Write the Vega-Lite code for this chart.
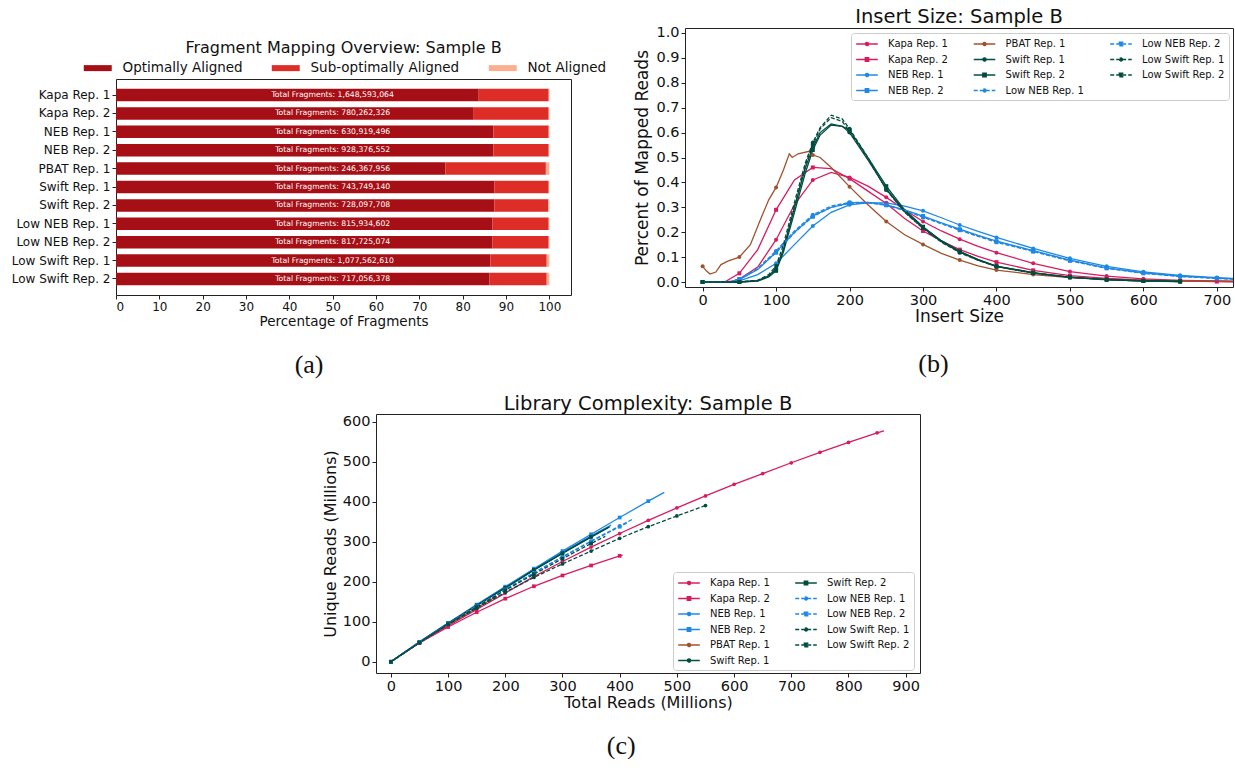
{
"$schema": "https://vega.github.io/schema/vega-lite/v6.json",
"padding": {"left": 10, "top": 6, "right": 0, "bottom": 0},
"config": {
  "font": "DejaVu Sans",
  "view": {"stroke": "#222", "strokeWidth": 1},
  "axis": {"grid": false, "domain": false, "tickColor": "#222", "labelColor": "#111", "titleColor": "#111", "titleFontWeight": "normal", "tickSize": 4, "labelPadding": 2},
  "title": {"fontWeight": "normal", "color": "#111", "anchor": "middle"},
  "legend": {"labelColor": "#111"}
},
"datasets": {
  "frag": [
    {"lib": "Kapa Rep. 1", "cat": "Optimally Aligned", "k": 1, "pct": 83.7},
    {"lib": "Kapa Rep. 1", "cat": "Sub-optimally Aligned", "k": 2, "pct": 16.15},
    {"lib": "Kapa Rep. 1", "cat": "Not Aligned", "k": 3, "pct": 0.15},
    {"lib": "Kapa Rep. 2", "cat": "Optimally Aligned", "k": 1, "pct": 82.4},
    {"lib": "Kapa Rep. 2", "cat": "Sub-optimally Aligned", "k": 2, "pct": 17.45},
    {"lib": "Kapa Rep. 2", "cat": "Not Aligned", "k": 3, "pct": 0.15},
    {"lib": "NEB Rep. 1", "cat": "Optimally Aligned", "k": 1, "pct": 87.1},
    {"lib": "NEB Rep. 1", "cat": "Sub-optimally Aligned", "k": 2, "pct": 12.75},
    {"lib": "NEB Rep. 1", "cat": "Not Aligned", "k": 3, "pct": 0.15},
    {"lib": "NEB Rep. 2", "cat": "Optimally Aligned", "k": 1, "pct": 87.1},
    {"lib": "NEB Rep. 2", "cat": "Sub-optimally Aligned", "k": 2, "pct": 12.75},
    {"lib": "NEB Rep. 2", "cat": "Not Aligned", "k": 3, "pct": 0.15},
    {"lib": "PBAT Rep. 1", "cat": "Optimally Aligned", "k": 1, "pct": 76.0},
    {"lib": "PBAT Rep. 1", "cat": "Sub-optimally Aligned", "k": 2, "pct": 23.2},
    {"lib": "PBAT Rep. 1", "cat": "Not Aligned", "k": 3, "pct": 0.8},
    {"lib": "Swift Rep. 1", "cat": "Optimally Aligned", "k": 1, "pct": 87.3},
    {"lib": "Swift Rep. 1", "cat": "Sub-optimally Aligned", "k": 2, "pct": 12.55},
    {"lib": "Swift Rep. 1", "cat": "Not Aligned", "k": 3, "pct": 0.15},
    {"lib": "Swift Rep. 2", "cat": "Optimally Aligned", "k": 1, "pct": 87.3},
    {"lib": "Swift Rep. 2", "cat": "Sub-optimally Aligned", "k": 2, "pct": 12.45},
    {"lib": "Swift Rep. 2", "cat": "Not Aligned", "k": 3, "pct": 0.25},
    {"lib": "Low NEB Rep. 1", "cat": "Optimally Aligned", "k": 1, "pct": 86.9},
    {"lib": "Low NEB Rep. 1", "cat": "Sub-optimally Aligned", "k": 2, "pct": 12.95},
    {"lib": "Low NEB Rep. 1", "cat": "Not Aligned", "k": 3, "pct": 0.15},
    {"lib": "Low NEB Rep. 2", "cat": "Optimally Aligned", "k": 1, "pct": 86.9},
    {"lib": "Low NEB Rep. 2", "cat": "Sub-optimally Aligned", "k": 2, "pct": 12.95},
    {"lib": "Low NEB Rep. 2", "cat": "Not Aligned", "k": 3, "pct": 0.15},
    {"lib": "Low Swift Rep. 1", "cat": "Optimally Aligned", "k": 1, "pct": 86.4},
    {"lib": "Low Swift Rep. 1", "cat": "Sub-optimally Aligned", "k": 2, "pct": 13.0},
    {"lib": "Low Swift Rep. 1", "cat": "Not Aligned", "k": 3, "pct": 0.6},
    {"lib": "Low Swift Rep. 2", "cat": "Optimally Aligned", "k": 1, "pct": 86.2},
    {"lib": "Low Swift Rep. 2", "cat": "Sub-optimally Aligned", "k": 2, "pct": 13.2},
    {"lib": "Low Swift Rep. 2", "cat": "Not Aligned", "k": 3, "pct": 0.6}
  ],
  "totals": [
    {"lib": "Kapa Rep. 1", "label": "Total Fragments: 1,648,593,064"},
    {"lib": "Kapa Rep. 2", "label": "Total Fragments: 780,262,326"},
    {"lib": "NEB Rep. 1", "label": "Total Fragments: 630,919,496"},
    {"lib": "NEB Rep. 2", "label": "Total Fragments: 928,376,552"},
    {"lib": "PBAT Rep. 1", "label": "Total Fragments: 246,367,956"},
    {"lib": "Swift Rep. 1", "label": "Total Fragments: 743,749,140"},
    {"lib": "Swift Rep. 2", "label": "Total Fragments: 728,097,708"},
    {"lib": "Low NEB Rep. 1", "label": "Total Fragments: 815,934,602"},
    {"lib": "Low NEB Rep. 2", "label": "Total Fragments: 817,725,074"},
    {"lib": "Low Swift Rep. 1", "label": "Total Fragments: 1,077,562,610"},
    {"lib": "Low Swift Rep. 2", "label": "Total Fragments: 717,056,378"}
  ],
  "ins": [
    {"s":"Kapa Rep. 1","x":35,"y":0},{"s":"Kapa Rep. 1","x":50,"y":0.012},{"s":"Kapa Rep. 1","x":75,"y":0.06},{"s":"Kapa Rep. 1","x":100,"y":0.17},{"s":"Kapa Rep. 1","x":125,"y":0.31},{"s":"Kapa Rep. 1","x":150,"y":0.41},{"s":"Kapa Rep. 1","x":175,"y":0.44},{"s":"Kapa Rep. 1","x":200,"y":0.42},{"s":"Kapa Rep. 1","x":225,"y":0.385},{"s":"Kapa Rep. 1","x":250,"y":0.34},{"s":"Kapa Rep. 1","x":275,"y":0.29},{"s":"Kapa Rep. 1","x":300,"y":0.243},{"s":"Kapa Rep. 1","x":325,"y":0.205},{"s":"Kapa Rep. 1","x":350,"y":0.172},{"s":"Kapa Rep. 1","x":375,"y":0.143},{"s":"Kapa Rep. 1","x":400,"y":0.118},{"s":"Kapa Rep. 1","x":450,"y":0.075},{"s":"Kapa Rep. 1","x":500,"y":0.042},{"s":"Kapa Rep. 1","x":550,"y":0.024},{"s":"Kapa Rep. 1","x":600,"y":0.013},{"s":"Kapa Rep. 1","x":650,"y":0.007},{"s":"Kapa Rep. 1","x":700,"y":0.004},{"s":"Kapa Rep. 1","x":722,"y":0.003},
    {"s":"Kapa Rep. 2","x":30,"y":0},{"s":"Kapa Rep. 2","x":50,"y":0.035},{"s":"Kapa Rep. 2","x":75,"y":0.13},{"s":"Kapa Rep. 2","x":100,"y":0.29},{"s":"Kapa Rep. 2","x":125,"y":0.41},{"s":"Kapa Rep. 2","x":150,"y":0.46},{"s":"Kapa Rep. 2","x":175,"y":0.455},{"s":"Kapa Rep. 2","x":200,"y":0.415},{"s":"Kapa Rep. 2","x":225,"y":0.365},{"s":"Kapa Rep. 2","x":250,"y":0.315},{"s":"Kapa Rep. 2","x":275,"y":0.255},{"s":"Kapa Rep. 2","x":300,"y":0.205},{"s":"Kapa Rep. 2","x":325,"y":0.165},{"s":"Kapa Rep. 2","x":350,"y":0.13},{"s":"Kapa Rep. 2","x":375,"y":0.103},{"s":"Kapa Rep. 2","x":400,"y":0.08},{"s":"Kapa Rep. 2","x":450,"y":0.047},{"s":"Kapa Rep. 2","x":500,"y":0.026},{"s":"Kapa Rep. 2","x":550,"y":0.015},{"s":"Kapa Rep. 2","x":600,"y":0.008},{"s":"Kapa Rep. 2","x":650,"y":0.004},{"s":"Kapa Rep. 2","x":700,"y":0.002},{"s":"Kapa Rep. 2","x":722,"y":0.001},
    {"s":"NEB Rep. 1","x":0,"y":0},{"s":"NEB Rep. 1","x":25,"y":0},{"s":"NEB Rep. 1","x":40,"y":0},{"s":"NEB Rep. 1","x":50,"y":0.005},{"s":"NEB Rep. 1","x":75,"y":0.03},{"s":"NEB Rep. 1","x":100,"y":0.075},{"s":"NEB Rep. 1","x":125,"y":0.15},{"s":"NEB Rep. 1","x":150,"y":0.225},{"s":"NEB Rep. 1","x":175,"y":0.28},{"s":"NEB Rep. 1","x":200,"y":0.31},{"s":"NEB Rep. 1","x":225,"y":0.318},{"s":"NEB Rep. 1","x":250,"y":0.318},{"s":"NEB Rep. 1","x":275,"y":0.305},{"s":"NEB Rep. 1","x":300,"y":0.286},{"s":"NEB Rep. 1","x":325,"y":0.258},{"s":"NEB Rep. 1","x":350,"y":0.229},{"s":"NEB Rep. 1","x":375,"y":0.203},{"s":"NEB Rep. 1","x":400,"y":0.179},{"s":"NEB Rep. 1","x":450,"y":0.135},{"s":"NEB Rep. 1","x":500,"y":0.095},{"s":"NEB Rep. 1","x":550,"y":0.063},{"s":"NEB Rep. 1","x":600,"y":0.041},{"s":"NEB Rep. 1","x":650,"y":0.027},{"s":"NEB Rep. 1","x":700,"y":0.018},{"s":"NEB Rep. 1","x":722,"y":0.015},
    {"s":"NEB Rep. 2","x":0,"y":0},{"s":"NEB Rep. 2","x":25,"y":0},{"s":"NEB Rep. 2","x":40,"y":0.002},{"s":"NEB Rep. 2","x":50,"y":0.01},{"s":"NEB Rep. 2","x":75,"y":0.05},{"s":"NEB Rep. 2","x":100,"y":0.12},{"s":"NEB Rep. 2","x":125,"y":0.2},{"s":"NEB Rep. 2","x":150,"y":0.265},{"s":"NEB Rep. 2","x":175,"y":0.3},{"s":"NEB Rep. 2","x":200,"y":0.318},{"s":"NEB Rep. 2","x":225,"y":0.32},{"s":"NEB Rep. 2","x":250,"y":0.31},{"s":"NEB Rep. 2","x":275,"y":0.29},{"s":"NEB Rep. 2","x":300,"y":0.265},{"s":"NEB Rep. 2","x":325,"y":0.238},{"s":"NEB Rep. 2","x":350,"y":0.212},{"s":"NEB Rep. 2","x":375,"y":0.187},{"s":"NEB Rep. 2","x":400,"y":0.164},{"s":"NEB Rep. 2","x":450,"y":0.126},{"s":"NEB Rep. 2","x":500,"y":0.088},{"s":"NEB Rep. 2","x":550,"y":0.057},{"s":"NEB Rep. 2","x":600,"y":0.037},{"s":"NEB Rep. 2","x":650,"y":0.024},{"s":"NEB Rep. 2","x":700,"y":0.016},{"s":"NEB Rep. 2","x":722,"y":0.013},
    {"s":"PBAT Rep. 1","x":0,"y":0.063},{"s":"PBAT Rep. 1","x":5,"y":0.045},{"s":"PBAT Rep. 1","x":10,"y":0.032},{"s":"PBAT Rep. 1","x":18,"y":0.04},{"s":"PBAT Rep. 1","x":25,"y":0.07},{"s":"PBAT Rep. 1","x":35,"y":0.085},{"s":"PBAT Rep. 1","x":50,"y":0.1},{"s":"PBAT Rep. 1","x":65,"y":0.15},{"s":"PBAT Rep. 1","x":80,"y":0.26},{"s":"PBAT Rep. 1","x":90,"y":0.33},{"s":"PBAT Rep. 1","x":100,"y":0.38},{"s":"PBAT Rep. 1","x":110,"y":0.45},{"s":"PBAT Rep. 1","x":118,"y":0.515},{"s":"PBAT Rep. 1","x":122,"y":0.5},{"s":"PBAT Rep. 1","x":130,"y":0.515},{"s":"PBAT Rep. 1","x":145,"y":0.525},{"s":"PBAT Rep. 1","x":150,"y":0.51},{"s":"PBAT Rep. 1","x":160,"y":0.5},{"s":"PBAT Rep. 1","x":175,"y":0.46},{"s":"PBAT Rep. 1","x":200,"y":0.383},{"s":"PBAT Rep. 1","x":225,"y":0.31},{"s":"PBAT Rep. 1","x":250,"y":0.243},{"s":"PBAT Rep. 1","x":275,"y":0.19},{"s":"PBAT Rep. 1","x":300,"y":0.151},{"s":"PBAT Rep. 1","x":325,"y":0.115},{"s":"PBAT Rep. 1","x":350,"y":0.088},{"s":"PBAT Rep. 1","x":375,"y":0.065},{"s":"PBAT Rep. 1","x":400,"y":0.048},{"s":"PBAT Rep. 1","x":450,"y":0.03},{"s":"PBAT Rep. 1","x":500,"y":0.018},{"s":"PBAT Rep. 1","x":550,"y":0.012},{"s":"PBAT Rep. 1","x":600,"y":0.008},{"s":"PBAT Rep. 1","x":650,"y":0.005},{"s":"PBAT Rep. 1","x":700,"y":0.003},{"s":"PBAT Rep. 1","x":722,"y":0.002},
    {"s":"Swift Rep. 1","x":0,"y":0},{"s":"Swift Rep. 1","x":25,"y":0},{"s":"Swift Rep. 1","x":50,"y":0},{"s":"Swift Rep. 1","x":75,"y":0.006},{"s":"Swift Rep. 1","x":90,"y":0.025},{"s":"Swift Rep. 1","x":100,"y":0.055},{"s":"Swift Rep. 1","x":110,"y":0.13},{"s":"Swift Rep. 1","x":125,"y":0.3},{"s":"Swift Rep. 1","x":140,"y":0.46},{"s":"Swift Rep. 1","x":150,"y":0.54},{"s":"Swift Rep. 1","x":160,"y":0.6},{"s":"Swift Rep. 1","x":175,"y":0.635},{"s":"Swift Rep. 1","x":190,"y":0.625},{"s":"Swift Rep. 1","x":200,"y":0.6},{"s":"Swift Rep. 1","x":225,"y":0.49},{"s":"Swift Rep. 1","x":250,"y":0.375},{"s":"Swift Rep. 1","x":275,"y":0.285},{"s":"Swift Rep. 1","x":300,"y":0.22},{"s":"Swift Rep. 1","x":325,"y":0.165},{"s":"Swift Rep. 1","x":350,"y":0.122},{"s":"Swift Rep. 1","x":375,"y":0.09},{"s":"Swift Rep. 1","x":400,"y":0.064},{"s":"Swift Rep. 1","x":450,"y":0.038},{"s":"Swift Rep. 1","x":500,"y":0.02},{"s":"Swift Rep. 1","x":550,"y":0.01},{"s":"Swift Rep. 1","x":600,"y":0.005},{"s":"Swift Rep. 1","x":650,"y":0.002},
    {"s":"Swift Rep. 2","x":0,"y":0},{"s":"Swift Rep. 2","x":25,"y":0},{"s":"Swift Rep. 2","x":50,"y":0},{"s":"Swift Rep. 2","x":75,"y":0.004},{"s":"Swift Rep. 2","x":90,"y":0.02},{"s":"Swift Rep. 2","x":100,"y":0.045},{"s":"Swift Rep. 2","x":110,"y":0.12},{"s":"Swift Rep. 2","x":125,"y":0.28},{"s":"Swift Rep. 2","x":140,"y":0.44},{"s":"Swift Rep. 2","x":150,"y":0.53},{"s":"Swift Rep. 2","x":160,"y":0.59},{"s":"Swift Rep. 2","x":175,"y":0.63},{"s":"Swift Rep. 2","x":190,"y":0.625},{"s":"Swift Rep. 2","x":200,"y":0.61},{"s":"Swift Rep. 2","x":225,"y":0.5},{"s":"Swift Rep. 2","x":250,"y":0.385},{"s":"Swift Rep. 2","x":275,"y":0.29},{"s":"Swift Rep. 2","x":300,"y":0.222},{"s":"Swift Rep. 2","x":325,"y":0.166},{"s":"Swift Rep. 2","x":350,"y":0.123},{"s":"Swift Rep. 2","x":375,"y":0.09},{"s":"Swift Rep. 2","x":400,"y":0.063},{"s":"Swift Rep. 2","x":450,"y":0.037},{"s":"Swift Rep. 2","x":500,"y":0.019},{"s":"Swift Rep. 2","x":550,"y":0.01},{"s":"Swift Rep. 2","x":600,"y":0.004},{"s":"Swift Rep. 2","x":650,"y":0.002},
    {"s":"Low NEB Rep. 1","x":0,"y":0},{"s":"Low NEB Rep. 1","x":25,"y":0},{"s":"Low NEB Rep. 1","x":40,"y":0.003},{"s":"Low NEB Rep. 1","x":50,"y":0.012},{"s":"Low NEB Rep. 1","x":75,"y":0.055},{"s":"Low NEB Rep. 1","x":100,"y":0.125},{"s":"Low NEB Rep. 1","x":125,"y":0.205},{"s":"Low NEB Rep. 1","x":150,"y":0.27},{"s":"Low NEB Rep. 1","x":175,"y":0.305},{"s":"Low NEB Rep. 1","x":200,"y":0.32},{"s":"Low NEB Rep. 1","x":225,"y":0.32},{"s":"Low NEB Rep. 1","x":250,"y":0.31},{"s":"Low NEB Rep. 1","x":275,"y":0.288},{"s":"Low NEB Rep. 1","x":300,"y":0.262},{"s":"Low NEB Rep. 1","x":325,"y":0.236},{"s":"Low NEB Rep. 1","x":350,"y":0.21},{"s":"Low NEB Rep. 1","x":375,"y":0.185},{"s":"Low NEB Rep. 1","x":400,"y":0.163},{"s":"Low NEB Rep. 1","x":450,"y":0.125},{"s":"Low NEB Rep. 1","x":500,"y":0.087},{"s":"Low NEB Rep. 1","x":550,"y":0.056},{"s":"Low NEB Rep. 1","x":600,"y":0.036},{"s":"Low NEB Rep. 1","x":650,"y":0.023},{"s":"Low NEB Rep. 1","x":700,"y":0.015},{"s":"Low NEB Rep. 1","x":722,"y":0.012},
    {"s":"Low NEB Rep. 2","x":0,"y":0},{"s":"Low NEB Rep. 2","x":25,"y":0},{"s":"Low NEB Rep. 2","x":40,"y":0.002},{"s":"Low NEB Rep. 2","x":50,"y":0.011},{"s":"Low NEB Rep. 2","x":75,"y":0.052},{"s":"Low NEB Rep. 2","x":100,"y":0.118},{"s":"Low NEB Rep. 2","x":125,"y":0.198},{"s":"Low NEB Rep. 2","x":150,"y":0.262},{"s":"Low NEB Rep. 2","x":175,"y":0.3},{"s":"Low NEB Rep. 2","x":200,"y":0.315},{"s":"Low NEB Rep. 2","x":225,"y":0.318},{"s":"Low NEB Rep. 2","x":250,"y":0.308},{"s":"Low NEB Rep. 2","x":275,"y":0.287},{"s":"Low NEB Rep. 2","x":300,"y":0.26},{"s":"Low NEB Rep. 2","x":325,"y":0.234},{"s":"Low NEB Rep. 2","x":350,"y":0.208},{"s":"Low NEB Rep. 2","x":375,"y":0.183},{"s":"Low NEB Rep. 2","x":400,"y":0.16},{"s":"Low NEB Rep. 2","x":450,"y":0.122},{"s":"Low NEB Rep. 2","x":500,"y":0.085},{"s":"Low NEB Rep. 2","x":550,"y":0.055},{"s":"Low NEB Rep. 2","x":600,"y":0.035},{"s":"Low NEB Rep. 2","x":650,"y":0.022},{"s":"Low NEB Rep. 2","x":700,"y":0.015},{"s":"Low NEB Rep. 2","x":722,"y":0.012},
    {"s":"Low Swift Rep. 1","x":0,"y":0},{"s":"Low Swift Rep. 1","x":25,"y":0},{"s":"Low Swift Rep. 1","x":50,"y":0},{"s":"Low Swift Rep. 1","x":75,"y":0.007},{"s":"Low Swift Rep. 1","x":90,"y":0.03},{"s":"Low Swift Rep. 1","x":100,"y":0.065},{"s":"Low Swift Rep. 1","x":110,"y":0.15},{"s":"Low Swift Rep. 1","x":125,"y":0.32},{"s":"Low Swift Rep. 1","x":140,"y":0.48},{"s":"Low Swift Rep. 1","x":150,"y":0.56},{"s":"Low Swift Rep. 1","x":160,"y":0.62},{"s":"Low Swift Rep. 1","x":175,"y":0.67},{"s":"Low Swift Rep. 1","x":190,"y":0.655},{"s":"Low Swift Rep. 1","x":200,"y":0.615},{"s":"Low Swift Rep. 1","x":225,"y":0.5},{"s":"Low Swift Rep. 1","x":250,"y":0.37},{"s":"Low Swift Rep. 1","x":275,"y":0.28},{"s":"Low Swift Rep. 1","x":300,"y":0.215},{"s":"Low Swift Rep. 1","x":325,"y":0.16},{"s":"Low Swift Rep. 1","x":350,"y":0.118},{"s":"Low Swift Rep. 1","x":375,"y":0.087},{"s":"Low Swift Rep. 1","x":400,"y":0.062},{"s":"Low Swift Rep. 1","x":450,"y":0.036},{"s":"Low Swift Rep. 1","x":500,"y":0.019},{"s":"Low Swift Rep. 1","x":550,"y":0.009},{"s":"Low Swift Rep. 1","x":600,"y":0.004},{"s":"Low Swift Rep. 1","x":650,"y":0.002},
    {"s":"Low Swift Rep. 2","x":0,"y":0},{"s":"Low Swift Rep. 2","x":25,"y":0},{"s":"Low Swift Rep. 2","x":50,"y":0},{"s":"Low Swift Rep. 2","x":75,"y":0.005},{"s":"Low Swift Rep. 2","x":90,"y":0.025},{"s":"Low Swift Rep. 2","x":100,"y":0.05},{"s":"Low Swift Rep. 2","x":110,"y":0.135},{"s":"Low Swift Rep. 2","x":125,"y":0.3},{"s":"Low Swift Rep. 2","x":140,"y":0.47},{"s":"Low Swift Rep. 2","x":150,"y":0.55},{"s":"Low Swift Rep. 2","x":160,"y":0.615},{"s":"Low Swift Rep. 2","x":175,"y":0.66},{"s":"Low Swift Rep. 2","x":190,"y":0.645},{"s":"Low Swift Rep. 2","x":200,"y":0.605},{"s":"Low Swift Rep. 2","x":225,"y":0.495},{"s":"Low Swift Rep. 2","x":250,"y":0.372},{"s":"Low Swift Rep. 2","x":275,"y":0.282},{"s":"Low Swift Rep. 2","x":300,"y":0.217},{"s":"Low Swift Rep. 2","x":325,"y":0.162},{"s":"Low Swift Rep. 2","x":350,"y":0.12},{"s":"Low Swift Rep. 2","x":375,"y":0.088},{"s":"Low Swift Rep. 2","x":400,"y":0.062},{"s":"Low Swift Rep. 2","x":450,"y":0.036},{"s":"Low Swift Rep. 2","x":500,"y":0.019},{"s":"Low Swift Rep. 2","x":550,"y":0.009},{"s":"Low Swift Rep. 2","x":600,"y":0.004},{"s":"Low Swift Rep. 2","x":650,"y":0.002}
  ],
  "cx": [
    {"s":"Kapa Rep. 1","x":0,"y":0},{"s":"Kapa Rep. 1","x":50,"y":48},{"s":"Kapa Rep. 1","x":100,"y":90},{"s":"Kapa Rep. 1","x":150,"y":131},{"s":"Kapa Rep. 1","x":200,"y":172},{"s":"Kapa Rep. 1","x":250,"y":213},{"s":"Kapa Rep. 1","x":300,"y":251},{"s":"Kapa Rep. 1","x":350,"y":287},{"s":"Kapa Rep. 1","x":400,"y":321},{"s":"Kapa Rep. 1","x":450,"y":354},{"s":"Kapa Rep. 1","x":500,"y":385},{"s":"Kapa Rep. 1","x":550,"y":415},{"s":"Kapa Rep. 1","x":600,"y":444},{"s":"Kapa Rep. 1","x":650,"y":471},{"s":"Kapa Rep. 1","x":700,"y":498},{"s":"Kapa Rep. 1","x":750,"y":524},{"s":"Kapa Rep. 1","x":800,"y":549},{"s":"Kapa Rep. 1","x":850,"y":573},{"s":"Kapa Rep. 1","x":862,"y":578},
    {"s":"Kapa Rep. 2","x":0,"y":0},{"s":"Kapa Rep. 2","x":50,"y":47},{"s":"Kapa Rep. 2","x":100,"y":87},{"s":"Kapa Rep. 2","x":150,"y":124},{"s":"Kapa Rep. 2","x":200,"y":158},{"s":"Kapa Rep. 2","x":250,"y":189},{"s":"Kapa Rep. 2","x":300,"y":216},{"s":"Kapa Rep. 2","x":350,"y":241},{"s":"Kapa Rep. 2","x":400,"y":265},{"s":"Kapa Rep. 2","x":405,"y":267},
    {"s":"NEB Rep. 1","x":0,"y":0},{"s":"NEB Rep. 1","x":50,"y":50},{"s":"NEB Rep. 1","x":100,"y":97},{"s":"NEB Rep. 1","x":150,"y":142},{"s":"NEB Rep. 1","x":200,"y":187},{"s":"NEB Rep. 1","x":250,"y":231},{"s":"NEB Rep. 1","x":300,"y":274},{"s":"NEB Rep. 1","x":350,"y":315},{"s":"NEB Rep. 1","x":385,"y":342},
    {"s":"NEB Rep. 2","x":0,"y":0},{"s":"NEB Rep. 2","x":50,"y":50},{"s":"NEB Rep. 2","x":100,"y":97},{"s":"NEB Rep. 2","x":150,"y":143},{"s":"NEB Rep. 2","x":200,"y":188},{"s":"NEB Rep. 2","x":250,"y":233},{"s":"NEB Rep. 2","x":300,"y":277},{"s":"NEB Rep. 2","x":350,"y":319},{"s":"NEB Rep. 2","x":400,"y":361},{"s":"NEB Rep. 2","x":450,"y":402},{"s":"NEB Rep. 2","x":478,"y":424},
    {"s":"PBAT Rep. 1","x":0,"y":0},{"s":"PBAT Rep. 1","x":50,"y":48},{"s":"PBAT Rep. 1","x":100,"y":93},{"s":"PBAT Rep. 1","x":150,"y":135},{"s":"PBAT Rep. 1","x":185,"y":164},
    {"s":"Swift Rep. 1","x":0,"y":0},{"s":"Swift Rep. 1","x":50,"y":49},{"s":"Swift Rep. 1","x":100,"y":96},{"s":"Swift Rep. 1","x":150,"y":141},{"s":"Swift Rep. 1","x":200,"y":185},{"s":"Swift Rep. 1","x":250,"y":229},{"s":"Swift Rep. 1","x":300,"y":271},{"s":"Swift Rep. 1","x":350,"y":312},{"s":"Swift Rep. 1","x":383,"y":338},
    {"s":"Swift Rep. 2","x":0,"y":0},{"s":"Swift Rep. 2","x":50,"y":49},{"s":"Swift Rep. 2","x":100,"y":96},{"s":"Swift Rep. 2","x":150,"y":141},{"s":"Swift Rep. 2","x":200,"y":185},{"s":"Swift Rep. 2","x":250,"y":230},{"s":"Swift Rep. 2","x":300,"y":272},{"s":"Swift Rep. 2","x":350,"y":313},{"s":"Swift Rep. 2","x":380,"y":336},
    {"s":"Low NEB Rep. 1","x":0,"y":0},{"s":"Low NEB Rep. 1","x":50,"y":49},{"s":"Low NEB Rep. 1","x":100,"y":95},{"s":"Low NEB Rep. 1","x":150,"y":139},{"s":"Low NEB Rep. 1","x":200,"y":181},{"s":"Low NEB Rep. 1","x":250,"y":223},{"s":"Low NEB Rep. 1","x":300,"y":263},{"s":"Low NEB Rep. 1","x":350,"y":302},{"s":"Low NEB Rep. 1","x":400,"y":340},{"s":"Low NEB Rep. 1","x":423,"y":357},
    {"s":"Low NEB Rep. 2","x":0,"y":0},{"s":"Low NEB Rep. 2","x":50,"y":49},{"s":"Low NEB Rep. 2","x":100,"y":95},{"s":"Low NEB Rep. 2","x":150,"y":139},{"s":"Low NEB Rep. 2","x":200,"y":181},{"s":"Low NEB Rep. 2","x":250,"y":222},{"s":"Low NEB Rep. 2","x":300,"y":262},{"s":"Low NEB Rep. 2","x":350,"y":301},{"s":"Low NEB Rep. 2","x":400,"y":338},{"s":"Low NEB Rep. 2","x":415,"y":349},
    {"s":"Low Swift Rep. 1","x":0,"y":0},{"s":"Low Swift Rep. 1","x":50,"y":48},{"s":"Low Swift Rep. 1","x":100,"y":93},{"s":"Low Swift Rep. 1","x":150,"y":134},{"s":"Low Swift Rep. 1","x":200,"y":174},{"s":"Low Swift Rep. 1","x":250,"y":211},{"s":"Low Swift Rep. 1","x":300,"y":245},{"s":"Low Swift Rep. 1","x":350,"y":277},{"s":"Low Swift Rep. 1","x":400,"y":309},{"s":"Low Swift Rep. 1","x":450,"y":338},{"s":"Low Swift Rep. 1","x":500,"y":365},{"s":"Low Swift Rep. 1","x":550,"y":391},
    {"s":"Low Swift Rep. 2","x":0,"y":0},{"s":"Low Swift Rep. 2","x":50,"y":48},{"s":"Low Swift Rep. 2","x":100,"y":94},{"s":"Low Swift Rep. 2","x":150,"y":137},{"s":"Low Swift Rep. 2","x":200,"y":179},{"s":"Low Swift Rep. 2","x":250,"y":219},{"s":"Low Swift Rep. 2","x":300,"y":258},{"s":"Low Swift Rep. 2","x":350,"y":296},{"s":"Low Swift Rep. 2","x":375,"y":314}
  ]
},
"resolve": {"scale": {"color": "independent", "x": "independent", "y": "independent"}, "legend": {"color": "independent"}},
"spacing": 15,
"vconcat": [
  {
    "spacing": 25,
    "resolve": {"scale": {"color": "independent", "x": "independent", "y": "independent"}, "legend": {"color": "independent"}},
    "hconcat": [
      {
        "title": {"text": "(a)", "orient": "bottom", "anchor": "middle", "font": "Liberation Serif", "fontSize": 26, "offset": 24},
        "spacing": 10,
        "resolve": {"scale": {"color": "independent", "x": "independent", "y": "independent"}, "legend": {"color": "independent"}},
        "vconcat": [
          {"width": 455, "height": 1, "view": {"stroke": null}, "data": {"values": []}, "mark": {"type": "point", "opacity": 0}},
          {
            "width": 455, "height": 216,
            "title": {"text": "Fragment Mapping Overview: Sample B", "fontSize": 16, "offset": 5},
            "layer": [
              {
                "data": {"name": "frag"},
                "mark": {"type": "bar"},
                "encoding": {
                  "y": {"field": "lib", "type": "nominal", "sort": ["Kapa Rep. 1","Kapa Rep. 2","NEB Rep. 1","NEB Rep. 2","PBAT Rep. 1","Swift Rep. 1","Swift Rep. 2","Low NEB Rep. 1","Low NEB Rep. 2","Low Swift Rep. 1","Low Swift Rep. 2"], "scale": {"paddingInner": 0.32, "paddingOuter": 0.53}, "axis": {"title": null, "labelFontSize": 12}},
                  "x": {"field": "pct", "type": "quantitative", "stack": "zero", "scale": {"domain": [0, 105], "nice": false}, "axis": {"values": [0,10,20,30,40,50,60,70,80,90,100], "title": "Percentage of Fragments", "titleFontSize": 13.5, "labelFontSize": 12, "titlePadding": 2}},
                  "color": {"field": "cat", "type": "nominal", "scale": {"domain": ["Optimally Aligned", "Sub-optimally Aligned", "Not Aligned"], "range": ["#a50f15", "#de2d26", "#fcae91"]},
                    "legend": {"title": null, "orient": "none", "legendX": -33, "legendY": -18, "direction": "horizontal", "symbolType": "M-2.33,-0.5H2.33V0.5H-2.33Z", "symbolSize": 144, "symbolOffset": 8, "labelOffset": 18, "labelFontSize": 13.5, "columnPadding": 28, "padding": 0, "symbolStrokeWidth": 0, "symbolOpacity": 1}},
                  "order": {"field": "k", "type": "quantitative"}
                }
              },
              {
                "data": {"name": "totals"},
                "mark": {"type": "text", "color": "white", "fontSize": 7.7},
                "encoding": {
                  "y": {"field": "lib", "type": "nominal", "sort": ["Kapa Rep. 1","Kapa Rep. 2","NEB Rep. 1","NEB Rep. 2","PBAT Rep. 1","Swift Rep. 1","Swift Rep. 2","Low NEB Rep. 1","Low NEB Rep. 2","Low Swift Rep. 1","Low Swift Rep. 2"]},
                  "x": {"datum": 50},
                  "text": {"field": "label"}
                }
              }
            ]
          }
        ]
      },
      {
        "title": {"text": "(b)", "orient": "bottom", "anchor": "middle", "font": "Liberation Serif", "fontSize": 26, "offset": 26},
        "vconcat": [
          {
            "width": 548, "height": 259,
            "title": {"text": "Insert Size: Sample B", "fontSize": 19.5, "offset": -3},
            "data": {"name": "ins"},
            "encoding": {
              "x": {"field": "x", "type": "quantitative", "scale": {"domain": [-24, 722], "nice": false, "zero": false}, "axis": {"values": [0,100,200,300,400,500,600,700], "title": "Insert Size", "titleFontSize": 17, "labelFontSize": 14.5, "titlePadding": 2}},
              "y": {"field": "y", "type": "quantitative", "scale": {"domain": [-0.02, 1.02], "nice": false, "zero": false}, "axis": {"values": [0,0.1,0.2,0.3,0.4,0.5,0.6,0.7,0.8,0.9,1.0], "format": ".1f", "title": "Percent of Mapped Reads", "titleFontSize": 17, "labelFontSize": 14.5}},
              "color": {"field": "s", "type": "nominal",
                "scale": {"domain": ["Kapa Rep. 1","Kapa Rep. 2","NEB Rep. 1","NEB Rep. 2","PBAT Rep. 1","Swift Rep. 1","Swift Rep. 2","Low NEB Rep. 1","Low NEB Rep. 2","Low Swift Rep. 1","Low Swift Rep. 2"],
                          "range": ["#d81b60","#d81b60","#1e88e5","#1e88e5","#a0522d","#004d40","#004d40","#1e88e5","#1e88e5","#004d40","#004d40"]},
                "legend": {"title": null, "orient": "none", "legendX": 166, "legendY": 5, "columns": 3, "symbolType": "stroke", "symbolSize": 144, "symbolOffset": 5, "labelOffset": 14, "labelFontSize": 10, "columnPadding": 22.5, "rowPadding": 3.5, "padding": 4, "fillColor": "white", "strokeColor": "#cccccc", "cornerRadius": 3,
                  "encode": {"symbols": {"update": {
                    "shape": {"signal": "indexof(datum.value, 'Rep. 2') >= 0 ? 'M-1.8,0H1.8M-0.28,-0.28H0.28V0.28H-0.28Z' : 'M-1.8,0H1.8M0.26,0A0.26,0.26 0 1 1 -0.26,0A0.26,0.26 0 1 1 0.26,0'"},
                    "stroke": {"signal": "indexof(datum.value, 'Kapa') >= 0 ? '#d81b60' : indexof(datum.value, 'NEB') >= 0 ? '#1e88e5' : indexof(datum.value, 'PBAT') >= 0 ? '#a0522d' : '#004d40'"},
                    "fill": {"signal": "indexof(datum.value, 'Kapa') >= 0 ? '#d81b60' : indexof(datum.value, 'NEB') >= 0 ? '#1e88e5' : indexof(datum.value, 'PBAT') >= 0 ? '#a0522d' : '#004d40'"},
                    "strokeDash": {"signal": "indexof(datum.value, 'Low') >= 0 ? [4, 2] : [1, 0]"},
                    "strokeWidth": {"value": 1.4},
                    "opacity": {"value": 1}
                  }}}}
              }
            },
            "layer": [
              {"transform": [{"filter": "indexof(datum.s, 'Low') < 0"}], "mark": {"type": "line", "strokeWidth": 1.3, "clip": true}},
              {"transform": [{"filter": "indexof(datum.s, 'Low') >= 0"}], "mark": {"type": "line", "strokeWidth": 1.3, "strokeDash": [4, 2], "clip": true}},
              {"transform": [{"filter": "datum.x % 50 == 0 && indexof(datum.s, 'Rep. 1') >= 0"}], "mark": {"type": "point", "shape": "circle", "filled": true, "size": 16, "opacity": 1, "clip": true}},
              {"transform": [{"filter": "datum.x % 50 == 0 && indexof(datum.s, 'Rep. 2') >= 0"}], "mark": {"type": "point", "shape": "square", "filled": true, "size": 16, "opacity": 1, "clip": true}}
            ]
          }
        ]
      }
    ]
  },
  {
    "spacing": 7,
    "resolve": {"scale": {"color": "independent", "x": "independent", "y": "independent"}, "legend": {"color": "independent"}},
    "hconcat": [
      {"width": 198, "height": 1, "view": {"stroke": null}, "data": {"values": []}, "mark": {"type": "point", "opacity": 0}},
      {
        "title": {"text": "(c)", "orient": "bottom", "anchor": "middle", "font": "Liberation Serif", "fontSize": 26, "offset": 22},
        "vconcat": [
          {
            "width": 544, "height": 259,
            "title": {"text": "Library Complexity: Sample B", "fontSize": 19.5, "offset": -1},
            "data": {"name": "cx"},
            "encoding": {
              "x": {"field": "x", "type": "quantitative", "scale": {"domain": [-26, 925], "nice": false, "zero": false}, "axis": {"values": [0,100,200,300,400,500,600,700,800,900], "title": "Total Reads (Millions)", "titleFontSize": 16, "labelFontSize": 14.5, "titlePadding": 2}},
              "y": {"field": "y", "type": "quantitative", "scale": {"domain": [-28, 620], "nice": false, "zero": false}, "axis": {"values": [0,100,200,300,400,500,600], "title": "Unique Reads (Millions)", "titleFontSize": 16, "labelFontSize": 14.5}},
              "color": {"field": "s", "type": "nominal",
                "scale": {"domain": ["Kapa Rep. 1","Kapa Rep. 2","NEB Rep. 1","NEB Rep. 2","PBAT Rep. 1","Swift Rep. 1","Swift Rep. 2","Low NEB Rep. 1","Low NEB Rep. 2","Low Swift Rep. 1","Low Swift Rep. 2"],
                          "range": ["#d81b60","#d81b60","#1e88e5","#1e88e5","#a0522d","#004d40","#004d40","#1e88e5","#1e88e5","#004d40","#004d40"]},
                "legend": {"title": null, "orient": "none", "legendX": 297, "legendY": 158, "columns": 2, "symbolType": "stroke", "symbolSize": 144, "symbolOffset": 5, "labelOffset": 14, "labelFontSize": 10, "columnPadding": 22, "rowPadding": 3.5, "padding": 4, "fillColor": "white", "strokeColor": "#cccccc", "cornerRadius": 3,
                  "encode": {"symbols": {"update": {
                    "shape": {"signal": "indexof(datum.value, 'Rep. 2') >= 0 ? 'M-1.8,0H1.8M-0.28,-0.28H0.28V0.28H-0.28Z' : 'M-1.8,0H1.8M0.26,0A0.26,0.26 0 1 1 -0.26,0A0.26,0.26 0 1 1 0.26,0'"},
                    "stroke": {"signal": "indexof(datum.value, 'Kapa') >= 0 ? '#d81b60' : indexof(datum.value, 'NEB') >= 0 ? '#1e88e5' : indexof(datum.value, 'PBAT') >= 0 ? '#a0522d' : '#004d40'"},
                    "fill": {"signal": "indexof(datum.value, 'Kapa') >= 0 ? '#d81b60' : indexof(datum.value, 'NEB') >= 0 ? '#1e88e5' : indexof(datum.value, 'PBAT') >= 0 ? '#a0522d' : '#004d40'"},
                    "strokeDash": {"signal": "indexof(datum.value, 'Low') >= 0 ? [4, 2] : [1, 0]"},
                    "strokeWidth": {"value": 1.4},
                    "opacity": {"value": 1}
                  }}}}
              }
            },
            "layer": [
              {"transform": [{"filter": "indexof(datum.s, 'Low') < 0"}], "mark": {"type": "line", "strokeWidth": 1.3, "clip": true}},
              {"transform": [{"filter": "indexof(datum.s, 'Low') >= 0"}], "mark": {"type": "line", "strokeWidth": 1.3, "strokeDash": [4, 2], "clip": true}},
              {"transform": [{"filter": "datum.x % 50 == 0 && indexof(datum.s, 'Rep. 1') >= 0"}], "mark": {"type": "point", "shape": "circle", "filled": true, "size": 14, "opacity": 1, "clip": true}},
              {"transform": [{"filter": "datum.x % 50 == 0 && indexof(datum.s, 'Rep. 2') >= 0"}], "mark": {"type": "point", "shape": "square", "filled": true, "size": 14, "opacity": 1, "clip": true}}
            ]
          }
        ]
      }
    ]
  }
]
}
